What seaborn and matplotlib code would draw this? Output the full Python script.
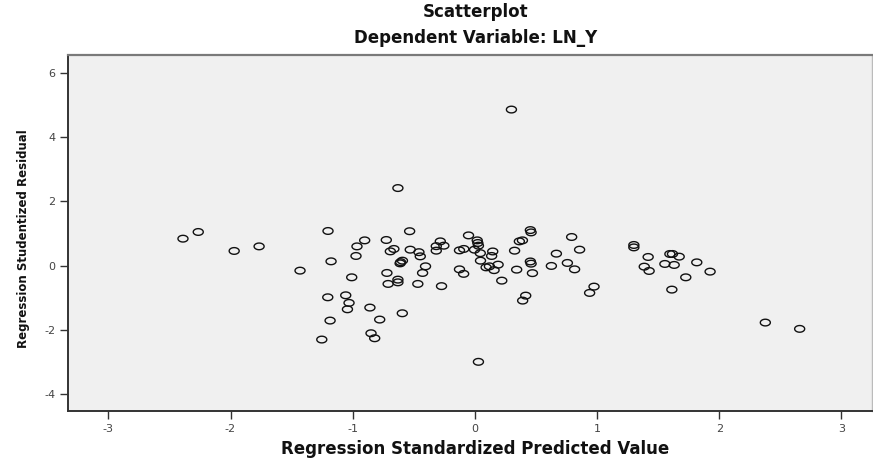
import numpy as np
import pandas as pd
import matplotlib
matplotlib.use("Agg")
import matplotlib.pyplot as plt
from matplotlib.path import Path
import seaborn as sns

# Regression standardized predicted values (x) and studentized residuals (y)
pred_value = [
    -2.389, -2.264, -1.970, -1.766, -1.431, -1.202, -1.177, -1.204, -1.185, -1.253,
    -1.057, -1.030, -1.043, -1.008, -0.973, -0.965, -0.902, -0.859, -0.779, -0.850,
    -0.820, -0.725, -0.692, -0.663, -0.720, -0.710, -0.630,
    -0.534, -0.529, -0.458, -0.447, -0.608, -0.593, -0.612, -0.404, -0.428, -0.630,
    -0.630, -0.467, -0.273, -0.594, -0.316, -0.283, -0.254, -0.316, -0.126, -0.091,
    -0.052, 0.019, 0.024, 0.029, -0.003, 0.044, 0.046, 0.146, 0.137, -0.126,
    -0.092, 0.092, 0.119, 0.157, 0.190, 0.220, 0.325, 0.364, 0.389, 0.454,
    0.460, 0.342, 0.454, 0.460, 0.471, 0.416, 0.391, 0.299, 0.029, 0.792,
    0.667, 0.857, 0.626, 0.757, 0.816, 0.975, 0.939,
    1.301, 1.301, 1.418, 1.386, 1.426, 1.555, 1.596, 1.617, 1.672, 1.631,
    1.726, 1.612, 1.816, 1.925, 2.377, 2.658,
]
stud_resid = [
    0.839, 1.047, 0.457, 0.599, -0.155, 1.078, 0.134, -0.984, -1.708, -2.298,
    -0.922, -1.158, -1.357, -0.363, 0.301, 0.599, 0.786, -1.304, -1.677, -2.102,
    -2.258, 0.798, 0.444, 0.519, -0.227, -0.568, 2.413,
    1.071, 0.497, 0.419, 0.289, 0.109, 0.155, 0.071, -0.021, -0.227, -0.435,
    -0.519, -0.568, -0.637, -1.481, 0.606, 0.755, 0.621, 0.466, 0.475, 0.519,
    0.941, 0.786, 0.705, 0.621, 0.497, 0.388, 0.155, 0.441, 0.301, -0.115,
    -0.255, -0.053, -0.022, -0.140, 0.031, -0.466, 0.466, 0.755, 0.786, 1.106,
    1.034, -0.124, 0.130, 0.062, -0.233, -0.932, -1.087, 4.854, -2.991, 0.891,
    0.373, 0.497, -0.009, 0.084, -0.115, -0.652, -0.848,
    0.643, 0.568, 0.270, -0.031, -0.165, 0.053, 0.363, 0.363, 0.280, 0.022,
    -0.363, -0.745, 0.102, -0.186, -1.770, -1.966,
]
x_ticks = [-3, -2, -1, 0, 1, 2, 3]
y_ticks = [-4, -2, 0, 2, 4, 6]

title_main = "Scatterplot"
title_sub = "Dependent Variable: LN_Y"
x_label = "Regression Standardized Predicted Value"
y_label = "Regression Studentized Residual"

df = pd.DataFrame({"pred": pred_value, "resid": stud_resid})

sns.set_theme(style="white")
plt.rcParams["font.family"] = ["DejaVu Sans"]
plt.rcParams["axes.unicode_minus"] = False

fig = plt.figure(figsize=(8.73, 4.61), dpi=100)
fig.patch.set_facecolor("white")
ax = fig.add_axes([68 / 873, 50 / 461, 804 / 873, 356.3 / 461])
ax.set_facecolor("#f0f0f0")

# open horizontally elongated ring marker (as in the stretched SPSS output)
t = np.linspace(0, 2 * np.pi, 60)
ellipse = Path(np.column_stack([1.5 * np.cos(t), np.sin(t)]), closed=True)

sns.scatterplot(data=df, x="pred", y="resid", ax=ax, marker=ellipse, s=52,
                facecolors="none", edgecolor="#111111", linewidth=1.0)

ax.set_xlim(-3.33, 3.25)
ax.set_ylim(-4.52, 6.56)
ax.set_xticks(x_ticks)
ax.set_yticks(y_ticks)
ax.set_xticklabels([str(v) for v in x_ticks])
ax.set_yticklabels([str(v) for v in y_ticks])
ax.tick_params(axis="both", direction="out", length=5.5, width=1.0,
               color="#333333", labelsize=8, labelcolor="#444444",
               bottom=True, left=True)

for side in ["left", "bottom"]:
    ax.spines[side].set_color("#333333")
    ax.spines[side].set_linewidth(1.4)
ax.spines["top"].set_color("#7a7a7a")
ax.spines["top"].set_linewidth(1.6)
ax.spines["right"].set_color("#bbbbbb")
ax.spines["right"].set_linewidth(1.0)

ax.set_xlabel(x_label, fontsize=12, fontweight="bold", color="#111111")
ax.set_ylabel(y_label, fontsize=8.5, fontweight="bold", color="#111111")
ax.xaxis.set_label_coords(0.506, -0.08)
ax.yaxis.set_label_coords(-0.047, 0.484)

fig.text(476 / 873, 1 - 12 / 461, title_main, ha="center", va="center",
         fontsize=12, fontweight="bold", color="#111111")
fig.text(476 / 873, 1 - 38 / 461, title_sub, ha="center", va="center",
         fontsize=12, fontweight="bold", color="#111111")

fig.savefig("out.png", dpi=100, facecolor="white")
